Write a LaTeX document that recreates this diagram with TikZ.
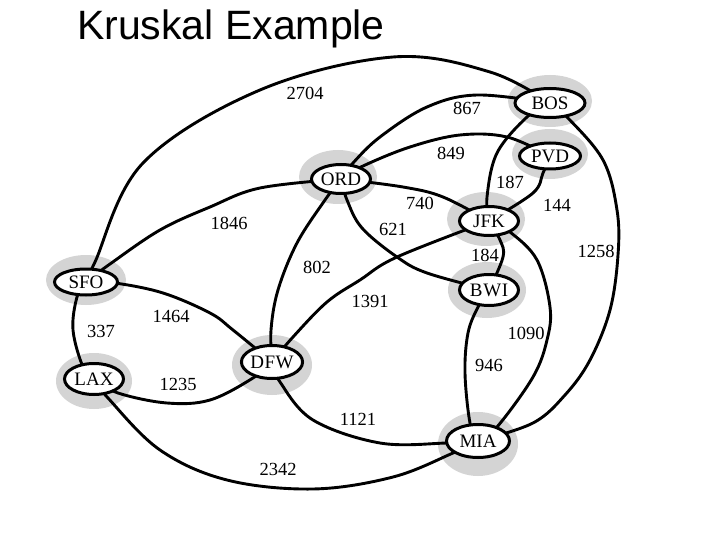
\documentclass[tikz,border=0pt]{standalone}
\usepackage{fontspec}
\setmainfont{Liberation Serif}
\newfontfamily\titlesans{Liberation Sans}
\usetikzlibrary{shapes.geometric}
\pgfdeclarelayer{halolayer}
\pgfdeclarelayer{edgelayer}
\pgfsetlayers{halolayer,edgelayer,main}
\tikzset{
  apt/.style={ellipse, draw=black, line width=3pt, fill=white, inner sep=0pt,
    font=\fontsize{19}{21}\selectfont},
  halo/.style={fill=black!17},
  edge/.style={line width=2.9pt, line cap=round},
  wlab/.style={font=\fontsize{18.5}{20}\selectfont, inner sep=0pt},
  sm/.style={smooth, tension=0.6}
}
\begin{document}
\begin{tikzpicture}[x=1pt,y=-1pt]
\useasboundingbox (0,0) rectangle (720,540);
\node[anchor=base west, inner sep=0pt, font=\titlesans\fontsize{41}{44}\selectfont] (title) at (77,40) {Kruskal Example};

% airports
\node[apt, minimum width=70pt, minimum height=29pt] (BOS) at (550,103) {BOS};
\node[apt, minimum width=61pt, minimum height=26pt] (PVD) at (550,156) {PVD};
\node[apt, minimum width=59pt, minimum height=29pt] (ORD) at (341,179) {ORD};
\node[apt, minimum width=59pt, minimum height=29pt] (JFK) at (489,221) {JFK};
\node[apt, minimum width=59pt, minimum height=31pt] (BWI) at (489,290) {B\kern1pt W\kern0.5pt I};
\node[apt, minimum width=63pt, minimum height=26pt] (SFO) at (86,282) {SFO};
\node[apt, minimum width=59pt, minimum height=31pt] (LAX) at (94,379) {LAX};
\node[apt, minimum width=61pt, minimum height=33pt] (DFW) at (272,362) {D\kern0.5pt F\kern0.5pt W};
\node[apt, minimum width=63pt, minimum height=33pt] (MIA) at (478,441) {MIA};

% halos
\begin{pgfonlayer}{halolayer}
\fill[halo] ([yshift=2pt]BOS.center) ellipse [x radius=42pt, y radius=26pt];
\fill[halo] ([yshift=2pt]PVD.center) ellipse [x radius=38pt, y radius=25pt];
\fill[halo] ([xshift=-3pt,yshift=2pt]ORD.center) ellipse [x radius=39pt, y radius=27pt];
\fill[halo] ([xshift=-3pt,yshift=2pt]JFK.center) ellipse [x radius=39pt, y radius=27pt];
\fill[halo] ([xshift=-2pt]BWI.center) ellipse [x radius=39pt, y radius=28pt];
\fill[halo] ([yshift=2pt]SFO.center) ellipse [x radius=40pt, y radius=25pt];
\fill[halo] ([yshift=-2pt]LAX.center) ellipse [x radius=38pt, y radius=28pt];
\fill[halo] ([yshift=-3pt]DFW.center) ellipse [x radius=40pt, y radius=30pt];
\fill[halo] ([yshift=-3pt]MIA.center) ellipse [x radius=40pt, y radius=32pt];
\end{pgfonlayer}

% edges
\begin{pgfonlayer}{edgelayer}
\draw[edge] plot[sm] coordinates {(SFO.center) (95,262) (143,163) (260,90) (393,57) (490,72) (BOS.center)};
\draw[edge] plot[sm] coordinates {(ORD.center) (353,163) (380,137) (427,107) (477,95) (BOS.center)};
\draw[edge] plot[sm] coordinates {(ORD.center) (363,166) (410,147) (460,135) (507,137) (PVD.center)};
\draw[edge] plot[sm] coordinates {(ORD.center) (403,187) (443,197) (JFK.center)};
\draw[edge] plot[sm] coordinates {(ORD.center) (347,200) (362,228) (397,257) (427,273) (BWI.center)};
\draw[edge] plot[sm] coordinates {(SFO.center) (110,264) (160,230) (210,207) (260,188) (ORD.center)};
\draw[edge] plot[sm] coordinates {(ORD.center) (325,200) (297,243) (278,290) (271,330) (DFW.center)};
\draw[edge] plot[sm] coordinates {(JFK.center) (397,257) (360,280) (327,302) (293,337) (DFW.center)};
\draw[edge] plot[sm] coordinates {(BOS.center) (527,117) (497,153) (487,197) (JFK.center)};
\draw[edge] plot[sm] coordinates {(PVD.center) (543,173) (533,193) (JFK.center)};
\draw[edge] plot[sm] coordinates {(JFK.center) (500,240) (503,257) (BWI.center)};
\draw[edge] plot[sm] coordinates {(BOS.center) (567,117) (603,160) (617,210) (618,255) (610,310) (590,360) (565,395) (533,423) (MIA.center)};
\draw[edge] plot[sm] coordinates {(JFK.center) (510,232) (537,260) (550,307) (547,340) (533,377) (497,427) (MIA.center)};
\draw[edge] plot[sm] coordinates {(BWI.center) (478,307) (468,333) (465,373) (470,423) (MIA.center)};
\draw[edge] plot[sm] coordinates {(DFW.center) (280,382) (313,420) (380,443) (447,443) (MIA.center)};
\draw[edge] plot[sm] coordinates {(SFO.center) (115,283) (163,293) (210,313) (233,330) (DFW.center)};
\draw[edge] plot[sm] coordinates {(LAX.center) (118,393) (167,403) (210,400) (253,378) (DFW.center)};
\draw[edge] plot[sm] coordinates {(SFO.center) (77,297) (73,330) (83,367) (LAX.center)};
\draw[edge] plot[sm] coordinates {(LAX.center) (108,398) (160,450) (227,480) (313,489) (393,477) (453,453) (MIA.center)};
\end{pgfonlayer}

% weights
\node[wlab] (w2704) at (305,93) {2704};
\node[wlab] (w867) at (467,108) {867};
\node[wlab] (w849) at (451,153) {849};
\node[wlab] (w187) at (510,182) {187};
\node[wlab] (w740) at (420,203) {740};
\node[wlab] (w621) at (393,229) {621};
\node[wlab] (w1846) at (229,223) {1846};
\node[wlab] (w802) at (317,267) {802};
\node[wlab] (w184) at (485,255) {184};
\node[wlab] (w144) at (557,205) {144};
\node[wlab] (w1258) at (596,251) {1258};
\node[wlab] (w1090) at (526,333) {1090};
\node[wlab] (w946) at (489,365) {946};
\node[wlab] (w1391) at (370,301) {1391};
\node[wlab] (w1464) at (171,316) {1464};
\node[wlab] (w337) at (101,331) {337};
\node[wlab] (w1235) at (178,384) {1235};
\node[wlab] (w1121) at (358,419) {1121};
\node[wlab] (w2342) at (278,469) {2342};
\end{tikzpicture}
\end{document}
